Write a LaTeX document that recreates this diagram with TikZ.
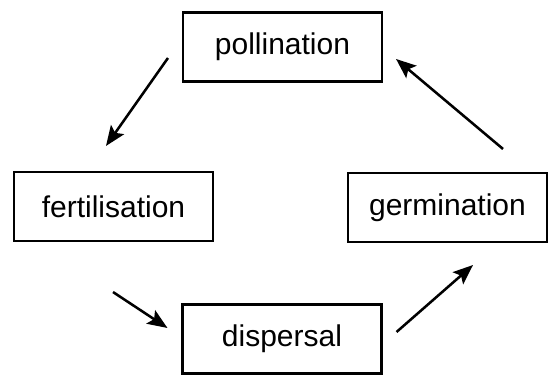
\documentclass[tikz,border=0pt]{standalone}
\usepackage{fontspec}
\setmainfont{Liberation Sans}
\usepackage{tikz}
\usetikzlibrary{arrows.meta,positioning,calc}

\begin{document}
\begin{tikzpicture}[
  x=0.75pt, y=0.75pt,
  every node/.style={font=\fontsize{22.5}{27}\selectfont},
  stage/.style={rectangle, draw, line width=1.8pt, minimum width=149pt, minimum height=51.5pt, inner sep=0pt},
  cyc/.style={line width=1.9pt, -{Stealth[length=15pt,width=12pt,inset=3pt]}},
]
  \useasboundingbox (0,0) rectangle (552,377);

  \node[stage] (poll) at (282.5,330) {pollination};
  \node[stage] (fert) at (113.5,170.5) {fertilisation};
  \node[stage] (germ) at (447.5,169.5) {germination};
  \node[stage] (disp) at (282,38) {dispersal};

  \draw[cyc] ([shift={(-14,-11)}]poll.west) -- ([shift={(-7.5,25)}]fert.north);
  \draw[cyc] ([shift={(-0.5,-50)}]fert.south) -- ([shift={(-14,11)}]disp.west);
  \draw[cyc] ([shift={(14,7)}]disp.east) -- ([shift={(25.5,-22)}]germ.south);
  \draw[cyc] ([shift={(55.5,23)}]germ.north) -- ([shift={(13,-12)}]poll.east);
\end{tikzpicture}
\end{document}
